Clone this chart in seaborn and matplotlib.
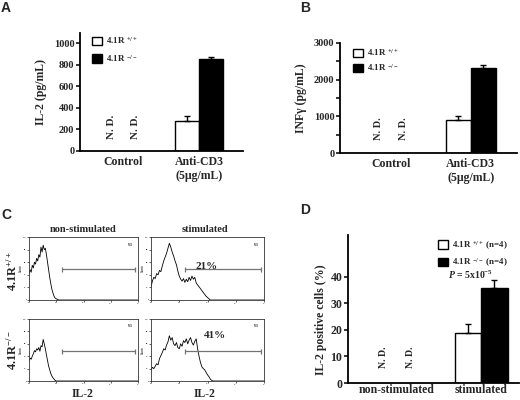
import numpy as np
import pandas as pd
import seaborn as sns
import matplotlib.pyplot as plt
from matplotlib.patches import Patch

# ---- valores ----
grupos_ab = ["Control", "Anti-CD3\n(5µg/mL)"]
grupos_d = ["non-stimulated", "stimulated"]

# A: IL-2 (pg/mL)
il2_wt = [np.nan, 281]
il2_ko = [np.nan, 849]
il2_wt_err = [0, 43]
il2_ko_err = [0, 24]

# B: INFγ (pg/mL)
infg_wt = [np.nan, 900]
infg_ko = [np.nan, 2325]
infg_wt_err = [0, 100]
infg_ko_err = [0, 85]

# D: IL-2 positive cells (%)
pos_wt = [np.nan, 19.0]
pos_ko = [np.nan, 35.6]
pos_wt_err = [0, 3.1]
pos_ko_err = [0, 3.1]

# C: histogramas de citometria (x = log10 da fluorescencia, y = counts)
x_ns_wt = [0.00, 0.04, 0.08, 0.12, 0.16, 0.20, 0.24, 0.28, 0.32, 0.36, 0.40, 0.44, 0.48, 0.52,
           0.56, 0.60, 0.64, 0.68, 0.72, 0.76, 0.80, 0.84, 0.88, 0.92, 0.96, 1.00, 1.04, 1.10, 4.00]
y_ns_wt = [42, 48, 44, 55, 51, 60, 57, 66, 62, 72, 68, 84, 76, 87,
           80, 82, 72, 60, 48, 36, 26, 17, 11, 6, 3, 2, 1, 0, 0]

x_st_wt = [0.00, 0.05, 0.10, 0.15, 0.20, 0.25, 0.30, 0.35, 0.40, 0.45, 0.50, 0.55, 0.60, 0.65, 0.70,
           0.75, 0.80, 0.85, 0.90, 0.95, 1.00, 1.05, 1.10, 1.15, 1.20, 1.25, 1.30, 1.35, 1.40, 1.45,
           1.50, 1.55, 1.60, 1.65, 1.70, 1.75, 1.80, 1.85, 1.90, 1.95, 2.00, 2.05, 2.10, 4.00]
y_st_wt = [21, 30, 36, 34, 42, 40, 47, 45, 54, 62, 68, 74, 82, 90, 84,
           76, 70, 62, 56, 46, 38, 33, 30, 34, 28, 33, 29, 36, 31, 38,
           33, 36, 27, 24, 21, 18, 15, 12, 9, 6, 4, 2, 0, 0]

x_ns_ko = [0.00, 0.04, 0.08, 0.12, 0.16, 0.20, 0.24, 0.28, 0.32, 0.36, 0.40, 0.44, 0.48, 0.52,
           0.56, 0.60, 0.64, 0.68, 0.72, 0.76, 0.80, 0.84, 0.88, 0.92, 0.96, 1.00, 4.00]
y_ns_ko = [33, 37, 35, 40, 44, 49, 47, 52, 50, 54, 48, 57, 55, 67,
           60, 52, 42, 33, 24, 18, 12, 8, 5, 3, 1, 0, 0]

x_st_ko = [0.00, 0.05, 0.10, 0.15, 0.20, 0.25, 0.30, 0.35, 0.40, 0.45, 0.50, 0.55, 0.60, 0.65, 0.70,
           0.75, 0.80, 0.85, 0.90, 0.95, 1.00, 1.05, 1.10, 1.15, 1.20, 1.25, 1.30, 1.35, 1.40, 1.45,
           1.50, 1.55, 1.60, 1.65, 1.70, 1.75, 1.80, 1.85, 1.90, 1.95, 2.00, 2.05, 2.10, 2.15, 2.20, 4.00]
y_st_ko = [18, 22, 20, 24, 28, 26, 36, 41, 46, 52, 50, 58, 63, 73, 66,
           70, 60, 57, 62, 54, 52, 60, 56, 65, 62, 68, 60, 66, 70, 62,
           58, 64, 68, 52, 40, 30, 23, 20, 18, 14, 10, 7, 3, 1, 0, 0]

decadas = ["10⁰", "10¹", "10²", "10³", "10⁴"]
gate = [1.2, 3.9]
gate_nivel = 49
pct_wt = "21%"
pct_ko = "41%"

# ---- estilo ----
sns.set_style("ticks")
plt.rcParams["font.family"] = ["Liberation Serif", "DejaVu Serif"]
plt.rcParams["font.weight"] = "bold"
plt.rcParams["axes.labelweight"] = "bold"
plt.rcParams["mathtext.fontset"] = "custom"
plt.rcParams["mathtext.rm"] = "Liberation Serif:bold"
plt.rcParams["mathtext.bf"] = "Liberation Serif:bold"
plt.rcParams["mathtext.it"] = "Liberation Serif:italic:bold"

W, H = 520, 400
fig = plt.figure(figsize=(5.2, 4), dpi=100)


def caixa(l, t, r, b):
    # pixels da imagem -> fracao da figura
    return [l / W, 1 - b / H, (r - l) / W, (b - t) / H]


def fx(x):
    return x / W


def fy(y):
    return 1 - y / H


def barras(ax, grupos, wt, ko, wt_err, ko_err, nd_y, nd_size, largura=0.63):
    df = pd.DataFrame({"grupo": grupos * 2,
                       "gen": ["wt"] * len(grupos) + ["ko"] * len(grupos),
                       "valor": wt + ko})
    sns.barplot(data=df, x="grupo", y="valor", hue="gen", order=grupos, hue_order=["wt", "ko"],
                palette=["white", "black"], edgecolor="black", linewidth=1, width=largura,
                errorbar=None, legend=False, ax=ax)
    desl = largura / 4
    for i in range(len(grupos)):
        for d, v, e in [(-desl, wt[i], wt_err[i]), (desl, ko[i], ko_err[i])]:
            if np.isnan(v):
                ax.text(i + d, nd_y, "N. D.", rotation=90, ha="center", va="center", fontsize=nd_size)
            else:
                ax.errorbar(i + d, v, yerr=[[0], [e]], fmt="none", ecolor="black",
                            elinewidth=1, capsize=2.5, capthick=1)
    sns.despine(ax=ax)
    for s in ["left", "bottom"]:
        ax.spines[s].set_linewidth(1.3)
        ax.spines[s].set_color("black")
    ax.tick_params(axis="x", length=0)
    ax.tick_params(axis="y", which="both", length=3, width=1.1, color="black")
    ax.set_xlabel("")


def legenda(ax, x, y, rotulos, espaco):
    handles = [Patch(facecolor="white", edgecolor="black", linewidth=1),
               Patch(facecolor="black", edgecolor="black", linewidth=1)]
    ax.legend(handles, rotulos, loc="upper left", bbox_to_anchor=(fx(x), fy(y)),
              bbox_transform=fig.transFigure, frameon=False, fontsize=6.5,
              handlelength=1.1, handleheight=1.1, handletextpad=0.4,
              labelspacing=espaco, borderpad=0, borderaxespad=0)


# ---- A ----
axA = fig.add_axes(caixa(80, 33, 243, 151))
barras(axA, grupos_ab, il2_wt, il2_ko, il2_wt_err, il2_ko_err, nd_y=222, nd_size=8)
axA.set_xlim(-0.57, 1.58)
axA.set_ylim(0, 1093)
axA.set_yticks([0, 200, 400, 600, 800, 1000])
axA.tick_params(axis="y", labelsize=7.5, pad=1)
axA.tick_params(axis="x", labelsize=8.5, pad=3.5)
axA.set_ylabel("IL-2 (pg/mL)", fontsize=8.5)
axA.yaxis.set_label_coords(-0.20, 0.5)
legenda(axA, 92, 35, [r"4.1R $^{+/+}$", r"4.1R $^{-/-}$"], 0.75)

# ---- B ----
axB = fig.add_axes(caixa(340, 43, 517, 153))
barras(axB, grupos_ab, infg_wt, infg_ko, infg_wt_err, infg_ko_err, nd_y=654, nd_size=7.5)
axB.set_xlim(-0.64, 1.58)
axB.set_ylim(0, 3000)
axB.set_yticks([0, 1000, 2000, 3000])
axB.set_yticks([500, 1500, 2500], minor=True)
axB.tick_params(axis="y", labelsize=7.5, pad=1)
axB.tick_params(axis="x", labelsize=8.5, pad=3.5)
axB.set_ylabel("INFγ (pg/mL)", fontsize=8.5)
axB.yaxis.set_label_coords(-0.186, 0.5)
legenda(axB, 353, 47, [r"4.1R $^{+/+}$", r"4.1R $^{-/-}$"], 0.45)

# ---- D ----
axD = fig.add_axes(caixa(348, 235, 519, 383))
barras(axD, grupos_d, pos_wt, pos_ko, pos_wt_err, pos_ko_err, nd_y=9.8, nd_size=7)
axD.set_xlim(-0.58, 1.45)
axD.set_ylim(0, 55.7)
axD.set_yticks([0, 10, 20, 30, 40])
axD.tick_params(axis="y", labelsize=8.5, pad=1)
axD.tick_params(axis="x", labelsize=8.5, pad=1)
axD.set_ylabel("IL-2 positive cells (%)", fontsize=8.5)
axD.yaxis.set_label_coords(-0.123, 0.43)
legenda(axD, 438, 239, [r"4.1R $^{+/+}$ (n=4)", r"4.1R $^{-/-}$ (n=4)"], 0.5)
fig.text(fx(448), fy(275), r"$\it{P}$ = 5x10$^{-5}$", ha="left", va="center", fontsize=7)


# ---- C ----
def histo(ax, x, y, pct=None, pct_pos=None):
    sns.lineplot(x=x, y=y, ax=ax, color="black", linewidth=0.6)
    ax.errorbar((gate[0] + gate[1]) / 2, gate_nivel, xerr=(gate[1] - gate[0]) / 2,
                fmt="none", ecolor="0.45", elinewidth=0.9, capsize=1.8, capthick=0.9)
    ax.set_xlim(0, 4)
    ax.set_ylim(0, 100)
    ax.set_xticks([0, 1, 2, 3, 4])
    ax.set_xticklabels(decadas)
    ax.set_yticks([0, 20, 40, 60, 80, 100])
    ax.set_yticklabels(["0", "20", "40", "60", "80", "100"])
    ax.tick_params(labelsize=1.6, length=1.5, width=0.5, pad=0.2)
    ax.set_xlabel("")
    ax.set_ylabel("Counts", fontsize=1.8, labelpad=0.3)
    for s in ax.spines.values():
        s.set_linewidth(0.6)
        s.set_color("0.2")
    ax.text(0.93, 0.88, "M1", transform=ax.transAxes, fontsize=2, ha="center", va="center")
    if pct:
        ax.text(pct_pos[0], pct_pos[1], pct, fontsize=8, ha="center", va="center")


ax_c1 = fig.add_axes(caixa(29, 237, 138, 300))
ax_c2 = fig.add_axes(caixa(151, 237, 264, 300))
ax_c3 = fig.add_axes(caixa(29, 319, 138, 381))
ax_c4 = fig.add_axes(caixa(151, 319, 264, 381))
histo(ax_c1, x_ns_wt, y_ns_wt)
histo(ax_c2, x_st_wt, y_st_wt, pct_wt, (1.96, 53))
histo(ax_c3, x_ns_ko, y_ns_ko)
histo(ax_c4, x_st_ko, y_st_ko, pct_ko, (2.27, 73))

fig.text(fx(83), fy(230), "non-stimulated", ha="center", va="center", fontsize=7.5)
fig.text(fx(205), fy(230), "stimulated", ha="center", va="center", fontsize=7.5)
fig.text(fx(12), fy(271), r"4.1R$^{+/+}$", rotation=90, ha="center", va="center", fontsize=9)
fig.text(fx(12), fy(350), r"4.1R$^{-/-}$", rotation=90, ha="center", va="center", fontsize=9)
fig.text(fx(83), fy(400), "IL-2", ha="center", va="bottom", fontsize=8.5)
fig.text(fx(205), fy(400), "IL-2", ha="center", va="bottom", fontsize=8.5)

# letras dos paineis
for letra, x, y in [("A", 1, 8), ("B", 300, 8), ("C", 1, 215), ("D", 300, 210)]:
    fig.text(fx(x), fy(y), letra, ha="left", va="center", fontsize=10,
             family="Liberation Sans", weight="bold")

fig.savefig("out.png", dpi=100)
